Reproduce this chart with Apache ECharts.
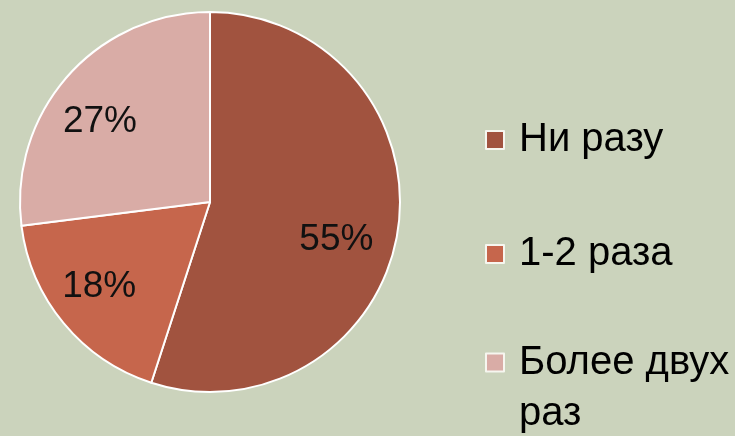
<!DOCTYPE html>
<html>
<head>
<meta charset="utf-8">
<script src="https://cdn.jsdelivr.net/npm/echarts@6/dist/echarts.min.js"></script>
<style>
  html, body { margin: 0; padding: 0; background: #cbd3bc; }
  #chart { width: 735px; height: 436px; }
</style>
</head>
<body>
<div id="chart"></div>
<script>
const categories = ['Ни разу', '1-2 раза', 'Более двух раз'];
const shares = [55, 18, 27];
const colors = ['#a1533f', '#c6664c', '#d9aca6'];

const chart = echarts.init(document.getElementById('chart'));

const font = 'Liberation Sans, Arial, sans-serif';
const pieData = categories.map((name, i) => ({ name, value: shares[i] }));

// small nudges to sit labels where the original slide has them
const labelNudge = [[-8, 17], [-6, -2], [-8, 10]];

const legendBase = {
  orient: 'vertical',
  left: 485,
  padding: 0,
  itemWidth: 18,
  itemHeight: 18,
  icon: 'rect',
  itemStyle: { borderColor: '#f6f6ef', borderWidth: 2 },
  textStyle: { fontFamily: font, fontSize: 40, color: '#000', lineHeight: 40, padding: [0, 0, 0, 10] },
};

chart.setOption({
  backgroundColor: '#cbd3bc',
  color: colors,
  animation: false,
  legend: [
    Object.assign({}, legendBase, { top: 120, data: [categories[0]] }),
    Object.assign({}, legendBase, { top: 234, data: [categories[1]] }),
    Object.assign({}, legendBase, {
      top: 286,
      data: [categories[2]],
      // empty first line keeps the icon level with "Более двух"
      formatter: () => '\nБолее двух\nраз',
      textStyle: { fontFamily: font, fontSize: 40, color: '#000', lineHeight: 51, padding: [0, 0, 0, 10] },
    }),
  ],
  series: [
    {
      type: 'pie',
      center: [210, 202],
      radius: 190,
      startAngle: 90,
      clockwise: true,
      label: { show: false },
      labelLine: { show: false },
      itemStyle: { borderColor: '#fff', borderWidth: 2 },
      emphasis: { disabled: true },
      data: pieData,
    },
    {
      // transparent ring only used to place the percentage labels
      type: 'pie',
      center: [210, 202],
      radius: [76, 190],
      startAngle: 90,
      clockwise: true,
      silent: true,
      itemStyle: { color: 'transparent' },
      label: {
        show: true,
        position: 'inside',
        formatter: '{c}%',
        fontFamily: font,
        fontSize: 37,
        color: '#111',
      },
      labelLayout: (p) => ({ dx: labelNudge[p.dataIndex][0], dy: labelNudge[p.dataIndex][1] }),
      emphasis: { disabled: true },
      data: pieData,
    },
  ],
});
</script>
</body>
</html>
